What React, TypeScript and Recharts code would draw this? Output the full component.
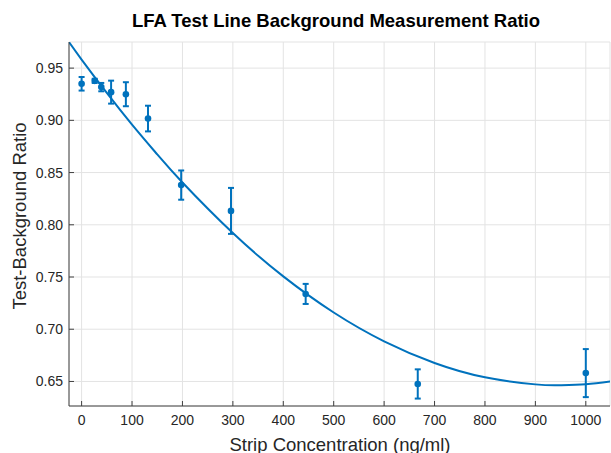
import React from 'react';
import {
  ComposedChart,
  Scatter,
  Line,
  XAxis,
  YAxis,
  CartesianGrid,
  ErrorBar,
} from 'recharts';

// Measured points
const concentrations = [0, 26.0, 39.0, 58.5, 87.8, 131.7, 197.5, 296.3, 444.4, 666.7, 1000];
const ratios = [0.935, 0.9378, 0.9318, 0.927, 0.925, 0.9017, 0.838, 0.8133, 0.7338, 0.6476, 0.658];
const errors = [0.0065, 0.002, 0.004, 0.011, 0.0115, 0.0123, 0.014, 0.022, 0.0096, 0.014, 0.023];

// Fitted curve
const curveX = [-25, 0, 50, 100, 150, 200, 300, 400, 500, 600, 700, 800, 900, 948, 1000, 1050];
const curveY = [0.9749, 0.9582, 0.9262, 0.8959, 0.8674, 0.8405, 0.7921, 0.7506, 0.716, 0.6884, 0.6677, 0.654, 0.6472, 0.6464, 0.6473, 0.65];

const xTicks = [0, 100, 200, 300, 400, 500, 600, 700, 800, 900, 1000];
const yTicks = [0.65, 0.7, 0.75, 0.8, 0.85, 0.9, 0.95];

const title = 'LFA Test Line Background Measurement Ratio';
const xLabel = 'Strip Concentration (ng/ml)';
const yLabel = 'Test-Background Ratio';

const points = concentrations.map((x, i) => ({ x, y: ratios[i], err: errors[i] }));
const curve = curveX.map((x, i) => ({ x, y: curveY[i] }));

const BLUE = '#0072BD';
const AXIS = '#404040';
const FONT = '"Liberation Sans", Arial, Helvetica, sans-serif';
const X_DOMAIN: [number, number] = [-25, 1048];
const Y_DOMAIN: [number, number] = [0.6265, 0.975];

const XTick = (props: any) => {
  const { x, y, payload } = props;
  return (
    <text x={x} y={y} dy="0.71em" textAnchor="middle" fill="#262626" fontSize={14} fontFamily={FONT}>
      {payload.value}
    </text>
  );
};

const YTick = (props: any) => {
  const { x, y, payload } = props;
  return (
    <text x={x} y={y} dy="0.355em" textAnchor="end" fill="#262626" fontSize={14} fontFamily={FONT}>
      {Number(payload.value).toFixed(2)}
    </text>
  );
};

export default function App() {
  return (
    <div style={{ position: 'absolute', left: 0, top: 0, width: 611, height: 453, background: '#fff' }}>
      <ComposedChart
        width={611}
        height={453}
        margin={{ top: 42, right: 1, bottom: 17, left: 9 }}
        style={{ fontFamily: FONT }}
      >
        <CartesianGrid stroke="#e3e3e3" strokeWidth={1} />
        <XAxis
          xAxisId={0}
          dataKey="x"
          type="number"
          domain={X_DOMAIN}
          ticks={xTicks}
          allowDataOverflow
          height={30}
          tickSize={-5}
          tickMargin={14}
          stroke={AXIS}
          tick={<XTick />}
          label={() => (
            <text x={340} y={450.5} textAnchor="middle" fill="#262626" fontSize={18.5} fontFamily={FONT}>
              {xLabel}
            </text>
          )}
        />
        <XAxis
          xAxisId="top"
          orientation="top"
          dataKey="x"
          type="number"
          domain={X_DOMAIN}
          ticks={xTicks}
          allowDataOverflow
          height={0}
          tickSize={-5}
          tick={false}
          stroke={AXIS}
        />
        <YAxis
          yAxisId={0}
          type="number"
          domain={Y_DOMAIN}
          ticks={yTicks}
          allowDataOverflow
          width={60}
          tickSize={-5}
          tickMargin={11}
          stroke={AXIS}
          tick={<YTick />}
          label={() => (
            <g>
              <text
                x={0}
                y={0}
                transform="translate(26,216) rotate(-90)"
                textAnchor="middle"
                fill="#262626"
                fontSize={18.5}
                fontFamily={FONT}
              >
                {yLabel}
              </text>
              <text x={336} y={26.5} textAnchor="middle" fill="#000" fontSize={18.5} fontWeight="bold" fontFamily={FONT}>
                {title}
              </text>
            </g>
          )}
        />
        <YAxis
          yAxisId="right"
          orientation="right"
          type="number"
          domain={Y_DOMAIN}
          ticks={yTicks}
          allowDataOverflow
          width={0}
          tickSize={-5}
          tick={false}
          stroke={AXIS}
        />
        <Line
          data={curve}
          dataKey="y"
          type="natural"
          stroke={BLUE}
          strokeWidth={2}
          dot={false}
          activeDot={false}
          isAnimationActive={false}
        />
        <Scatter
          data={points}
          dataKey="y"
          fill={BLUE}
          isAnimationActive={false}
          shape={(p: any) => <circle cx={p.cx} cy={p.cy} r={3.3} fill={BLUE} />}
        >
          <ErrorBar dataKey="err" direction="y" width={3} strokeWidth={2} stroke={BLUE} isAnimationActive={false} />
        </Scatter>
      </ComposedChart>
    </div>
  );
}
